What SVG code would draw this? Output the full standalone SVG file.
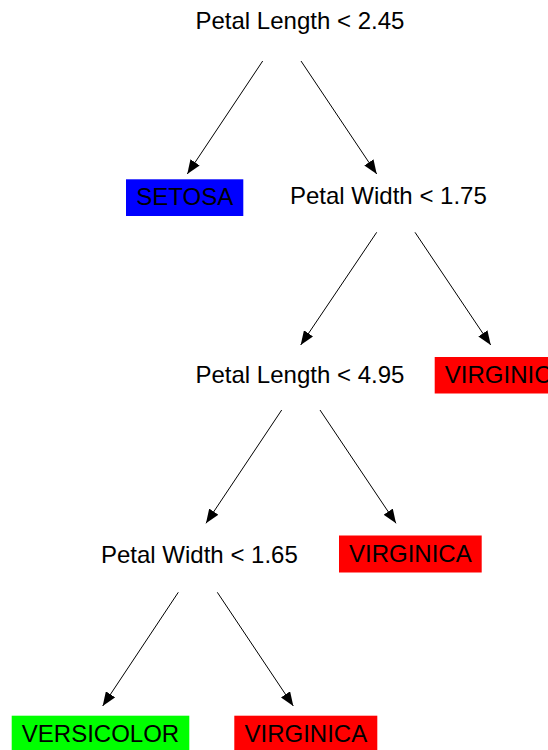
<svg xmlns="http://www.w3.org/2000/svg" width="548" height="750" viewBox="0 0 548 750">
<defs>
<style>
text{font-family:"Liberation Sans",Arial,sans-serif;font-size:24px;fill:#000}
.leaf{text-anchor:middle}
.edge{stroke:#000;stroke-width:1;fill:none;marker-end:url(#arr)}
.setosa{fill:#0000FF}
.virginica{fill:#FF0000}
.versicolor{fill:#00FF00}
</style>
<marker id="arr" viewBox="0 0 14 11" refX="14" refY="5.5" markerWidth="14" markerHeight="11" markerUnits="userSpaceOnUse" orient="auto">
<path d="M0,0 L14,5.5 L0,11 z" fill="#000"/>
</marker>
</defs>
<rect width="548" height="750" fill="#fff"/>
<g id="connectors">
<line class="edge" x1="262.7" y1="61" x2="187.3" y2="174"/>
<line class="edge" x1="301" y1="61" x2="376.7" y2="174"/>
<line class="edge" x1="376.7" y1="232.3" x2="300.7" y2="345"/>
<line class="edge" x1="415" y1="232.3" x2="490.7" y2="345"/>
<line class="edge" x1="281.7" y1="410" x2="206" y2="523.3"/>
<line class="edge" x1="320" y1="410" x2="396" y2="523.3"/>
<line class="edge" x1="178.3" y1="592.3" x2="102.7" y2="706"/>
<line class="edge" x1="217.3" y1="592.3" x2="293.3" y2="706"/>
</g>
<g id="n-root"><text x="195.5" y="29.3">Petal Length &lt; 2.45</text></g>
<g id="n-setosa"><rect class="setosa" x="126" y="179.3" width="117.3" height="36.7"/><text class="leaf" x="184.7" y="205">SETOSA</text></g>
<g id="n-pw175"><text x="290" y="204">Petal Width &lt; 1.75</text></g>
<g id="n-pl495"><text x="195.5" y="383">Petal Length &lt; 4.95</text></g>
<g id="n-virg1"><rect class="virginica" x="434.7" y="357" width="143" height="36.5"/><text class="leaf" x="506.2" y="383.3">VIRGINICA</text></g>
<g id="n-pw165"><text x="101" y="563">Petal Width &lt; 1.65</text></g>
<g id="n-virg2"><rect class="virginica" x="339" y="535.5" width="142.7" height="37"/><text class="leaf" x="410.3" y="562.3">VIRGINICA</text></g>
<g id="n-versicolor"><rect class="versicolor" x="11.7" y="715.7" width="177.6" height="37"/><text class="leaf" x="100.5" y="742.3">VERSICOLOR</text></g>
<g id="n-virg3"><rect class="virginica" x="234.3" y="715.7" width="143" height="37"/><text class="leaf" x="305.8" y="742.3">VIRGINICA</text></g>
</svg>
